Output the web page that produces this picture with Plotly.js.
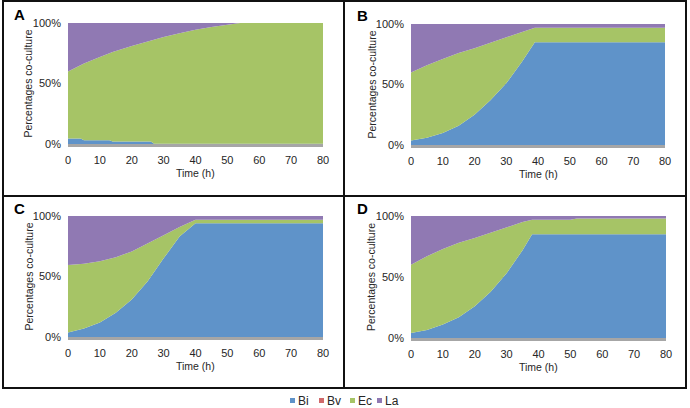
<!DOCTYPE html>
<html>
<head>
<meta charset="utf-8">
<script src="https://cdn.plot.ly/plotly-3.0.1.min.js"></script>
<style>
  body { margin: 0; background: #fff; }
  #chart { width: 690px; height: 408px; }
</style>
</head>
<body>
<div id="chart"></div>
<script>
// series names and colours
const seriesNames = ['Bi', 'Bv', 'Ec', 'La'];
const seriesColors = ['#5f93c9', '#d0696a', '#a6c466', '#9079b3'];
const yTickVals = [0, 50, 100];
const yTickText = ['0%', '50%', '100%'];
const xTickVals = [0, 10, 20, 30, 40, 50, 60, 70, 80];

// panel A (percent of co-culture)
const tA = [0, 4, 5, 10, 13, 14, 20, 26, 27, 30, 35, 40, 45, 50, 54, 60, 70, 80];
const biA = [4.5, 4.5, 3, 3, 3, 2, 2, 2, 0.3, 0.3, 0.3, 0.3, 0.3, 0.3, 0.3, 0.3, 0.3, 0.3];
const bvA = [0, 0, 0, 0, 0, 0, 0, 0, 0, 0, 0, 0, 0, 0, 0, 0, 0, 0];
const ecA = [55.5, 60.5, 63.5, 69, 72, 74, 79, 83.7, 86.1, 88.2, 91.2, 94.2, 96.4, 98.3, 99.7, 99.7, 99.7, 99.7];
const laA = [40, 35, 33.5, 28, 25, 24, 19, 14.3, 13.6, 11.5, 8.5, 5.5, 3.3, 1.4, 0, 0, 0, 0];

// panel B
const tB = [0, 5, 10, 15, 20, 25, 30, 35, 39, 50, 60, 70, 80];
const biB = [3.8, 6, 10, 16, 25, 37, 51, 69, 85, 85, 85, 85, 85];
const bvB = [0, 0, 0, 0, 0, 0, 0, 0, 0, 0, 0, 0, 0];
const ecB = [56.2, 60, 61, 60, 55, 47.5, 37.5, 24, 12, 12, 12, 12, 12];
const laB = [40, 34, 29, 24, 20, 15.5, 11.5, 7, 3, 3, 3, 3, 3];

// panel C
const tC = [0, 5, 10, 15, 20, 25, 30, 35, 40, 50, 60, 70, 80];
const biC = [3.8, 7, 12, 20, 31, 46, 65, 83, 94, 94, 94, 94, 94];
const bvC = [0, 0, 0, 0, 0, 0, 0, 0, 0, 0, 0, 0, 0];
const ecC = [55.7, 53.5, 50.5, 46, 39.6, 31, 19, 8, 3, 3, 3, 3, 3];
const laC = [40.5, 39.5, 37.5, 34, 29.4, 23, 16, 9, 3, 3, 3, 3, 3];

// panel D
const tD = [0, 5, 10, 15, 20, 25, 30, 35, 38, 50, 52, 60, 70, 80];
const biD = [4, 6.5, 11, 17, 26, 38, 53, 72, 85, 85, 85, 85, 85, 85];
const bvD = [0, 0, 0, 0, 0, 0, 0, 0, 0, 0, 0, 0, 0, 0];
const ecD = [56, 60.5, 62, 61, 56, 48.5, 37.7, 23, 12, 12, 13, 13, 13, 13];
const laD = [40, 33, 27, 22, 18, 13.5, 9.3, 5, 3, 3, 2, 2, 2, 2];

const W = 690, H = 408;
const px = x => x / W;
const py = y => 1 - y / H;

const panels = [
    {label: 'A', t: tA, vals: [biA, bvA, ecA, laA], ax: '', box: [68, 323, 23, 144]},
    {label: 'B', t: tB, vals: [biB, bvB, ecB, laB], ax: '2', box: [411, 665, 24, 145]},
    {label: 'C', t: tC, vals: [biC, bvC, ecC, laC], ax: '3', box: [68, 323, 216, 337]},
    {label: 'D', t: tD, vals: [biD, bvD, ecD, laD], ax: '4', box: [411, 666, 216, 338]}
];

const txtColor = '#262626';
const traces = [];
const annotations = [];
const shapes = [
    {type: 'rect', xref: 'paper', yref: 'paper', x0: px(3), x1: px(686), y0: py(388), y1: py(1), line: {color: '#111', width: 2}},
    {type: 'line', xref: 'paper', yref: 'paper', x0: px(344), x1: px(344), y0: py(388), y1: py(1), line: {color: '#111', width: 2}},
    {type: 'line', xref: 'paper', yref: 'paper', x0: px(3), x1: px(686), y0: py(196), y1: py(196), line: {color: '#111', width: 2}}
];
const layout = {
    width: W, height: H,
    margin: {l: 0, r: 0, t: 0, b: 0, autoexpand: false},
    paper_bgcolor: '#fff',
    plot_bgcolor: '#fff',
    font: {family: 'Liberation Sans, Arial, sans-serif', size: 11, color: txtColor},
    showlegend: false,
    shapes: shapes,
    annotations: annotations
};

panels.forEach((p, pi) => {
    seriesNames.forEach((name, si) => {
        traces.push({
            x: p.t, y: p.vals[si],
            type: 'scatter', mode: 'lines',
            stackgroup: 'g' + pi,
            name: name,
            line: {width: 0, color: seriesColors[si]},
            fillcolor: seriesColors[si],
            xaxis: 'x' + p.ax, yaxis: 'y' + p.ax
        });
    });
    const [l, r, t, b] = p.box;
    layout['xaxis' + p.ax] = {
        domain: [px(l), px(r)], anchor: 'y' + p.ax,
        range: [0, 80], tickvals: xTickVals,
        showgrid: false, zeroline: false, ticks: '',
        showline: true, linecolor: '#a6a6a6', linewidth: 3,
        tickfont: {size: 11, color: txtColor}, ticklabelstandoff: 4
    };
    layout['yaxis' + p.ax] = {
        domain: [py(b), py(t)], anchor: 'x' + p.ax,
        range: [0, 100], tickvals: yTickVals, ticktext: yTickText,
        showgrid: true, gridcolor: '#a6a6a6', gridwidth: 1, zeroline: false,
        ticks: '', showline: false,
        tickfont: {size: 11, color: txtColor}, ticklabelstandoff: 6
    };
    // panel letter
    annotations.push({
        xref: 'paper', yref: 'paper', x: px(l - 56), y: py(t - 8),
        xanchor: 'left', yanchor: 'middle', showarrow: false,
        text: '<b>' + p.label + '</b>', font: {size: 15, color: '#000'}
    });
    // y title
    annotations.push({
        xref: 'paper', yref: 'paper', x: px(l - 40), y: py((t + b) / 2),
        xanchor: 'center', yanchor: 'middle', showarrow: false, textangle: -90,
        text: 'Percentages co-culture', font: {size: 10.5, color: txtColor}
    });
    // x title
    annotations.push({
        xref: 'paper', yref: 'paper', x: px((l + r) / 2), y: py(b + 29),
        xanchor: 'center', yanchor: 'middle', showarrow: false,
        text: 'Time (h)', font: {size: 10.5, color: txtColor}
    });
});

// legend drawn as coloured squares with labels
const legendX = [290, 319, 350, 377];
seriesNames.forEach((name, si) => {
    const x = legendX[si];
    shapes.push({
        type: 'rect', xref: 'paper', yref: 'paper',
        x0: px(x), x1: px(x + 5), y0: py(403), y1: py(398),
        fillcolor: seriesColors[si], line: {width: 0}
    });
    annotations.push({
        xref: 'paper', yref: 'paper', x: px(x + 6), y: py(400.5),
        xanchor: 'left', yanchor: 'middle', showarrow: false,
        text: name, font: {size: 12, color: txtColor}
    });
});

Plotly.newPlot('chart', traces, layout, {displayModeBar: false, staticPlot: true});
</script>
</body>
</html>
